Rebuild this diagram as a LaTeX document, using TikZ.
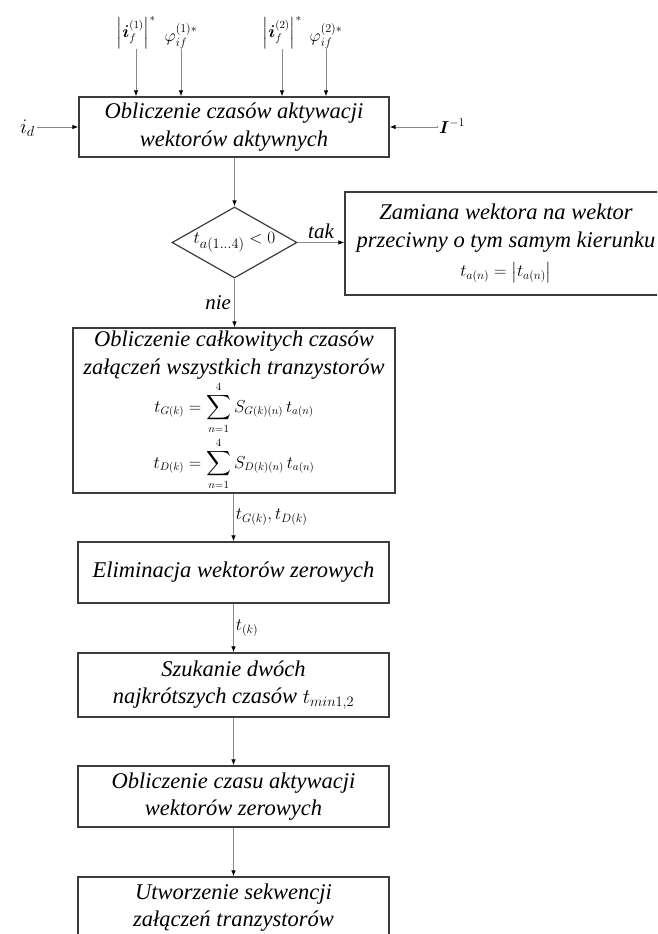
\documentclass[tikz,border=0pt]{standalone}
\usepackage{fontspec}
\setmainfont{Liberation Serif}
\usepackage{amsmath}
\usepackage{bm}
\usetikzlibrary{shapes.geometric,arrows.meta}
\definecolor{FrameGray}{HTML}{3C3C3C}
\definecolor{LineGray}{HTML}{8A8A8A}

\tikzset{
  block/.style={draw=FrameGray, line width=1.2pt, inner sep=0pt, align=center,
    font=\fontsize{22.5}{27.5}\selectfont\itshape},
  decision/.style={diamond, draw=FrameGray, line width=1.2pt, aspect=1.76,
    minimum width=125pt, minimum height=71pt, inner sep=-3pt},
  arr/.style={draw=LineGray, line width=0.9pt,
    -{Latex[length=6pt,width=4.5pt,color=black]}},
  sig/.style={font=\fontsize{18}{22}\selectfont, inner sep=2pt},
  lbl/.style={font=\fontsize{21}{24}\selectfont\itshape, inner sep=3pt},
}

\begin{document}
\begin{tikzpicture}[x=1pt,y=-1pt]
    \useasboundingbox (0,0) rectangle (657,934);
    \clip (0,0) rectangle (657,934);

    % blocks of the flow chart
    \node[block, minimum width=310pt, minimum height=60pt] (czasy) at (234,127)
      {Obliczenie czasów aktywacji\\ wektorów aktywnych};
    \node[decision] (test) at (234.5,242.5)
      {\fontsize{19}{22}\selectfont $t_{a(1\ldots4)}<0$};
    \node[block, minimum width=322pt, minimum height=103pt] (zamiana) at (506,243.5)
      {Zamiana wektora na wektor\\ przeciwny o tym samym kierunku\\[2pt]
       {\fontsize{17}{20}\selectfont $t_{a(n)}=\left|t_{a(n)}\right|$}};
    \node[block, minimum width=322pt, minimum height=165pt] (calk) at (234,410.5)
      {Obliczenie całkowitych czasów\\ załączeń wszystkich tranzystorów\\[2pt]
       {\fontsize{16}{20}\selectfont $\displaystyle t_{G(k)}=\sum_{n=1}^{4}S_{G(k)(n)}\,t_{a(n)}$}\\[3pt]
       {\fontsize{16}{20}\selectfont $\displaystyle t_{D(k)}=\sum_{n=1}^{4}S_{D(k)(n)}\,t_{a(n)}$}};
    \node[block, minimum width=311pt, minimum height=61pt] (elim) at (233.5,572.5)
      {Eliminacja wektorów zerowych};
    \node[block, minimum width=311pt, minimum height=64pt] (szuk) at (233.5,685)
      {Szukanie dwóch\\ najkrótszych czasów $t_{min1,2}$};
    \node[block, minimum width=311pt, minimum height=61pt] (zero) at (233.5,796.5)
      {Obliczenie czasu aktywacji\\ wektorów zerowych};
    \node[block, minimum width=311pt, minimum height=61pt] (sekw) at (233.5,907.5)
      {Utworzenie sekwencji\\ załączeń tranzystorów};

    % input signals
    \node[sig, anchor=south, inner sep=0pt] (mod1) at (136,49) {\fontsize{16}{20}\selectfont $\left|\bm{i}_f^{(1)}\right|^{*}$};
    \node[sig, anchor=south, inner sep=0pt] (phi1) at (181,49) {$\varphi_{if}^{(1)*}$};
    \node[sig, anchor=south, inner sep=0pt] (mod2) at (282,49) {\fontsize{16}{20}\selectfont $\left|\bm{i}_f^{(2)}\right|^{*}$};
    \node[sig, anchor=south, inner sep=0pt] (phi2) at (326,49) {$\varphi_{if}^{(2)*}$};
    \node[sig, anchor=east] (id) at (37,128) {\fontsize{22}{24}\selectfont $i_d$};
    \node[sig, anchor=west] (Iinv) at (437,126) {$\bm{I}^{-1}$};

    \foreach \s in {mod1,phi1,mod2,phi2}
      \draw[arr] (\s.south) -- (\s.south |- czasy.north);
    \draw[arr] (id.east) -- (id.east |- czasy.west) -- (czasy.west);
    \draw[arr] (Iinv.west) -- (Iinv.west |- czasy.east) -- (czasy.east);

    % flow connectors
    \draw[arr] (czasy.south -| test.north) -- (test.north);
    \draw[arr] (test.east) -- node[lbl, above] {tak} (test.east -| zamiana.west);
    \draw[arr] (test.south) -- node[lbl, left] {nie} (test.south |- calk.north);
    \draw[arr] (calk.south -| elim.north) -- node[sig, right]
      {$t_{G(k)},t_{D(k)}$} (elim.north);
    \draw[arr] (elim.south) -- node[sig, right] {$t_{(k)}$} (szuk.north);
    \draw[arr] (szuk.south) -- (zero.north);
    \draw[arr] (zero.south) -- (sekw.north);
\end{tikzpicture}
\end{document}
